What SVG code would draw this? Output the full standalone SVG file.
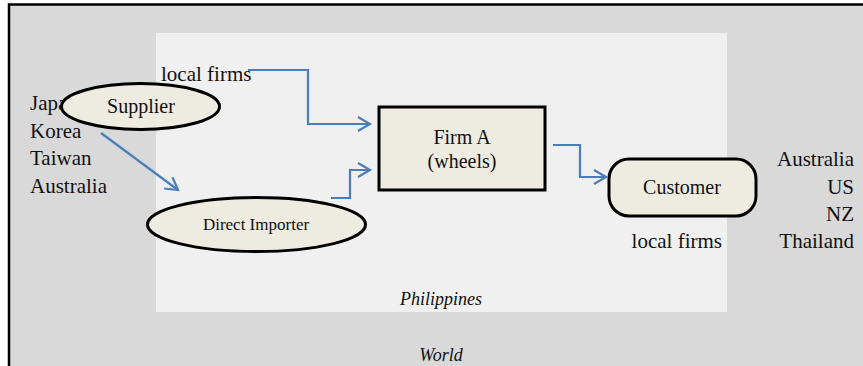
<svg xmlns="http://www.w3.org/2000/svg" width="863" height="366" viewBox="0 0 863 366">
<style>
.t{font-family:"Liberation Serif","Times New Roman",serif;font-size:20px;fill:#111}
.lbl{font-size:21px}
.it{font-family:"Liberation Serif","Times New Roman",serif;font-size:18px;font-style:italic;fill:#111}
.node{fill:#eeebe1;stroke:#000;stroke-width:3}
.conn{fill:none;stroke:#4a7ebb;stroke-width:2.2}
</style>
<defs>
<marker id="ah" markerUnits="userSpaceOnUse" markerWidth="16" markerHeight="18" refX="13" refY="8" orient="auto" viewBox="0 0 16 18">
<path d="M1,1 L13,8 L1,15" fill="none" stroke="#4a7ebb" stroke-width="2.2"/>
</marker>
</defs>
<rect x="0" y="0" width="863" height="366" fill="#ffffff"/>
<rect id="world" x="9" y="4" width="854" height="362" fill="#d9d9d9"/>
<path d="M9,366 V4.5 H863" fill="none" stroke="#000" stroke-width="2.5"/>
<rect id="philippines" x="156" y="33" width="571" height="279" fill="#f0f0f0"/>
<text class="it" x="441" y="305" text-anchor="middle">Philippines</text>
<text class="it" x="441" y="361" text-anchor="middle">World</text>

<g id="left-countries">
<text class="t lbl" x="30" y="110">Japan</text>
<text class="t lbl" x="30" y="138">Korea</text>
<text class="t lbl" x="30" y="165">Taiwan</text>
<text class="t lbl" x="30" y="193">Australia</text>
</g>
<text id="local-firms-top" class="t lbl" x="161" y="81">local firms</text>
<g id="right-countries">
<text class="t lbl" x="854" y="166" text-anchor="end">Australia</text>
<text class="t lbl" x="854" y="194" text-anchor="end">US</text>
<text class="t lbl" x="854" y="221" text-anchor="end">NZ</text>
<text class="t lbl" x="854" y="248" text-anchor="end">Thailand</text>
</g>
<text id="local-firms-right" class="t lbl" x="722" y="248" text-anchor="end">local firms</text>

<g id="connectors">
<path class="conn" d="M248,70 H308 V124 H370" marker-end="url(#ah)"/>
<path class="conn" d="M331,198 H350 V170 H370" marker-end="url(#ah)"/>
<path class="conn" d="M101,133 L178,190" marker-end="url(#ah)"/>
<path class="conn" d="M553,145 H580 V177 H606" marker-end="url(#ah)"/>
</g>

<g id="supplier">
<ellipse class="node" cx="140.5" cy="106.5" rx="79" ry="23"/>
<text class="t" x="141" y="113" text-anchor="middle">Supplier</text>
</g>
<g id="direct-importer">
<ellipse class="node" cx="256.5" cy="224.5" rx="109" ry="27"/>
<text class="t" x="256" y="230" text-anchor="middle" style="font-size:17px">Direct Importer</text>
</g>
<g id="firm-a">
<rect class="node" x="379" y="107" width="166" height="83"/>
<text class="t" x="462" y="144" text-anchor="middle">Firm A</text>
<text class="t" x="462" y="168" text-anchor="middle">(wheels)</text>
</g>
<g id="customer">
<rect class="node" x="609" y="159" width="147" height="57" rx="20"/>
<text class="t" x="682" y="194" text-anchor="middle">Customer</text>
</g>
</svg>
